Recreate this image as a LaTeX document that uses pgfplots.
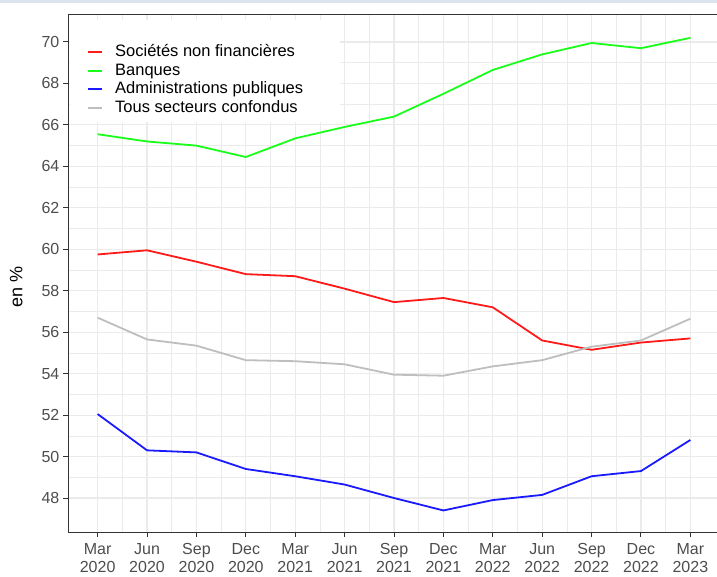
\documentclass[border=0pt]{standalone}
\usepackage{pgfplots}
\pgfplotsset{compat=1.18}
\usepackage{fontspec}
\setmainfont{Liberation Sans}
\definecolor{gridc}{HTML}{EBEBEB}
\definecolor{tickc}{HTML}{4D4D4D}
\definecolor{borderc}{HTML}{333333}
\definecolor{stripc}{HTML}{DCE5EF}
\definecolor{lineRed}{HTML}{FF1A1A}
\definecolor{lineGreen}{HTML}{1AFF1A}
\definecolor{lineBlue}{HTML}{1A1AFF}
\definecolor{lineGray}{HTML}{BEBEBE}
\begin{document}
\begin{tikzpicture}[x=1pt,y=1pt]
\useasboundingbox (0,0) rectangle (717,576);
\fill[stripc] (0,572.5) rectangle (717,576);
\begin{axis}[
  at={(68pt,44pt)}, anchor=south west,
  scale only axis, width=652pt, height=518pt,
  xmin=-0.6, xmax=12.6, ymin=46.36, ymax=71.35,
  xtick={0,...,12},
  xticklabels={{Mar\\2020},{Jun\\2020},{Sep\\2020},{Dec\\2020},{Mar\\2021},{Jun\\2021},{Sep\\2021},{Dec\\2021},{Mar\\2022},{Jun\\2022},{Sep\\2022},{Dec\\2022},{Mar\\2023}},
  xticklabel style={align=center, font=\fontsize{16}{18}\selectfont, text=tickc, inner sep=2pt, yshift=-4pt},
  ytick={48,50,...,70},
  yticklabel style={font=\fontsize{16}{18}\selectfont, text=tickc, inner sep=2pt, xshift=-1.5pt},
  /pgf/number format/assume math mode=true,
  minor x tick num=1, minor y tick num=1,
  grid=both,
  major grid style={gridc, line width=1.1pt},
  minor grid style={gridc, line width=0.55pt},
  axis line style={borderc, line width=0.6pt},
  tick style={borderc, line width=1pt},
  major tick length=5pt,
  minor tick length=0pt,
  tick align=outside,
  xtick pos=bottom, ytick pos=left,
  ylabel={en \%},
  ylabel style={font=\fontsize{18}{20}\selectfont, at={(-42pt,0.473)}, anchor=south},
  legend style={at={(2pt,512pt)}, anchor=north west, draw=none, fill=white,
    font=\fontsize{16.5}{18}\selectfont, row sep=0pt, inner xsep=0pt, inner ysep=5pt,
    nodes={text height=12.4pt, text depth=4pt, inner ysep=1pt, inner xsep=0pt},
    column sep=0pt},
  legend cell align=left,
  legend image code/.code={\path (0pt,0pt) (43pt,0pt); \draw[#1] (17pt,0.3pt) -- (31pt,0.3pt);},
  every axis plot/.append style={line width=1.8pt},
]
\addplot[color=lineRed, forget plot] coordinates {(0,59.75)(1,59.95)(2,59.4)(3,58.8)(4,58.7)(5,58.1)(6,57.45)(7,57.65)(8,57.2)(9,55.6)(10,55.15)(11,55.5)(12,55.7)};
\addplot[color=lineGreen, forget plot] coordinates {(0,65.55)(1,65.2)(2,65.0)(3,64.45)(4,65.35)(5,65.9)(6,66.4)(7,67.5)(8,68.65)(9,69.4)(10,69.95)(11,69.7)(12,70.2)};
\addplot[color=lineBlue, forget plot] coordinates {(0,52.05)(1,50.3)(2,50.2)(3,49.4)(4,49.05)(5,48.65)(6,48.0)(7,47.4)(8,47.9)(9,48.15)(10,49.05)(11,49.3)(12,50.8)};
\addplot[color=lineGray, forget plot] coordinates {(0,56.7)(1,55.65)(2,55.35)(3,54.65)(4,54.6)(5,54.45)(6,53.95)(7,53.9)(8,54.35)(9,54.65)(10,55.3)(11,55.6)(12,56.65)};
\addlegendimage{empty legend}
\addlegendentry{\hspace*{225pt}}
\addlegendimage{draw=lineRed, line width=2pt}
\addlegendentry{Sociétés non financières}
\addlegendimage{draw=lineGreen, line width=2pt}
\addlegendentry{Banques}
\addlegendimage{draw=lineBlue, line width=2pt}
\addlegendentry{Administrations publiques}
\addlegendimage{draw=lineGray, line width=2pt}
\addlegendentry{Tous secteurs confondus}
\end{axis}
\end{tikzpicture}
\end{document}
